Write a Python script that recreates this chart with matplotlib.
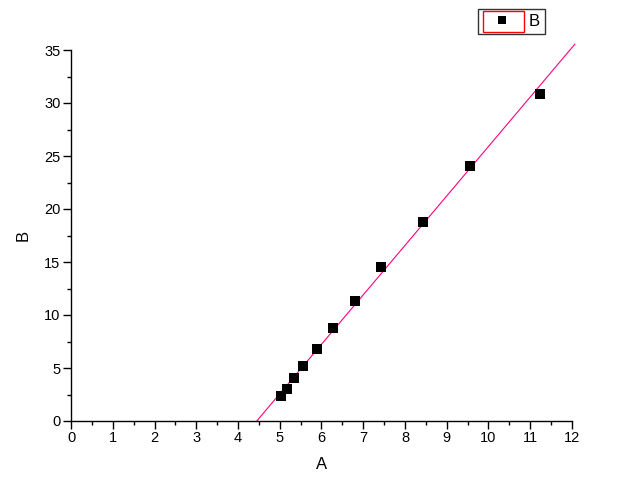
import matplotlib
matplotlib.use("Agg")
import matplotlib.pyplot as plt
from matplotlib.ticker import MultipleLocator

# scatter data
A = [5.03, 5.18, 5.34, 5.56, 5.89, 6.28, 6.80, 7.43, 8.43, 9.57, 11.23]
B = [2.36, 3.03, 4.03, 5.19, 6.79, 8.77, 11.32, 14.53, 18.75, 24.06, 30.85]

# linear fit line endpoints (as drawn)
FIT_A = [4.45, 12.07]
FIT_B = [0.0, 35.55]

plt.rcParams["font.family"] = ["Liberation Sans", "DejaVu Sans"]

fig = plt.figure(figsize=(6.23, 5.0), dpi=100)
ax = fig.add_axes([0.114, 0.158, 0.804, 0.742])

ax.plot(FIT_A, FIT_B, color="#FF0080", linewidth=0.8, clip_on=False, zorder=2)
ax.plot(A, B, linestyle="none", marker="s", markersize=6.5, color="black",
        markeredgewidth=0, label="B", zorder=3)

ax.set_xlim(0, 12)
ax.set_ylim(0, 35)
ax.xaxis.set_major_locator(MultipleLocator(1))
ax.xaxis.set_minor_locator(MultipleLocator(0.5))
ax.yaxis.set_major_locator(MultipleLocator(5))
ax.yaxis.set_minor_locator(MultipleLocator(2.5))

for side in ("top", "right"):
    ax.spines[side].set_visible(False)
for side in ("left", "bottom"):
    ax.spines[side].set_linewidth(1.0)

ax.tick_params(which="major", direction="out", length=5.5, width=1.0,
               labelsize=10.5, pad=2)
ax.tick_params(which="minor", direction="out", length=3, width=1.0)

ax.set_xlabel("A", fontsize=12, labelpad=8)
ax.set_ylabel("B", fontsize=12, labelpad=10)

leg = ax.legend(loc="upper left", bbox_to_anchor=(478 / 623, 1 - 9 / 500),
                bbox_transform=fig.transFigure, borderaxespad=0,
                frameon=True, fancybox=False, edgecolor="black", fontsize=12,
                handlelength=2.3, handletextpad=0.45, borderpad=0.3,
                markerscale=0.8)
leg.get_frame().set_linewidth(1.0)

# red highlight box around the legend symbol, like in the original
fig.patches.append(plt.Rectangle((483 / 623, 1 - 32 / 500), 41 / 623, 21 / 500,
                                 transform=fig.transFigure, fill=False,
                                 edgecolor="red", linewidth=1.0))

fig.savefig("out.png", dpi=100)
